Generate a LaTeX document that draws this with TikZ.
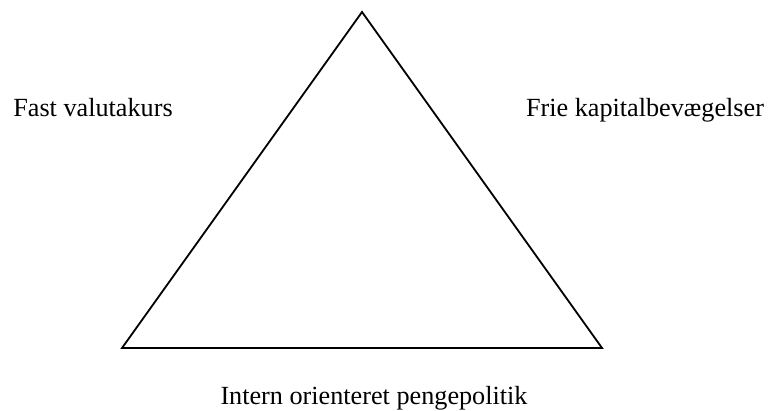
\documentclass[tikz,border=0pt]{standalone}
\usepackage{fontspec}
\setmainfont{Liberation Serif}
\usepackage{tikz}
\usetikzlibrary{positioning}

\tikzset{
    corner label/.style={font=\fontsize{13.1}{15}\selectfont, inner sep=0pt, anchor=base}
}

\begin{document}
\begin{tikzpicture}[x=0.5pt, y=-0.5pt]
            \useasboundingbox (0,0) rectangle (769,411);

            % Corners of the trilemma
            \coordinate (top) at (362,12);
            \coordinate (left) at (122,348);
            \coordinate (right) at (602,348);

            % Triangle
            \draw[line width=0.9pt, line join=miter] (top) -- (left) -- (right) -- cycle;

            % Labels
            \node[corner label] (fixed) at (93,117) {Fast valutakurs};
            \node[corner label] (capital) at (645,117) {Frie kapitalbevægelser};
            \node[corner label] (monetary) at (374,404) {Intern orienteret pengepolitik};
\end{tikzpicture}
\end{document}
